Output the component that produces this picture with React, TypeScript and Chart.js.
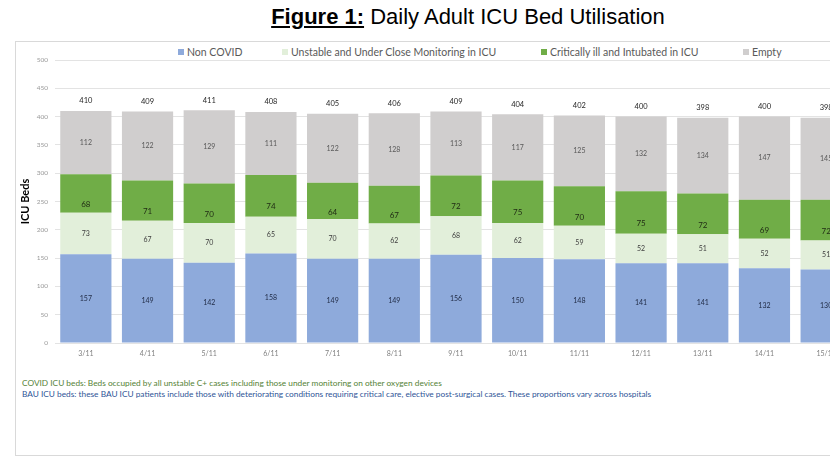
import React, { useEffect, useRef } from "react";
import { Chart, registerables } from "chart.js";

Chart.register(...registerables);

const categories = ["3/11", "4/11", "5/11", "6/11", "7/11", "8/11", "9/11", "10/11", "11/11", "12/11", "13/11", "14/11", "15/11"];
const nonCovid = [157, 149, 142, 158, 149, 149, 156, 150, 148, 141, 141, 132, 130];
const unstable = [73, 67, 70, 65, 70, 62, 68, 62, 59, 52, 51, 52, 51];
const critical = [68, 71, 70, 74, 64, 67, 72, 75, 70, 75, 72, 69, 72];
const empty = [112, 122, 129, 111, 122, 128, 113, 117, 125, 132, 134, 147, 145];
const seriesNames = ["Non COVID", "Unstable and Under Close Monitoring in ICU", "Critically ill and Intubated in ICU", "Empty"];
const seriesColors = ["#8eaadb", "#e2efda", "#70ad47", "#d0cece"];
const labelColors = ["#1f2a44", "#404040", "#1f2a14", "#595959"];
const labelOffsets = [0, 0, 11, 0];
const yTicks = { min: 0, max: 500, step: 50 };

const FONT = "Lato, 'Open Sans', sans-serif";

const labelPlugin = {
  id: "segLabels",
  afterDatasetsDraw(chart: any) {
    const ctx = chart.ctx;
    ctx.save();
    ctx.textAlign = "center";
    ctx.textBaseline = "middle";
    chart.data.datasets.forEach((ds: any, di: number) => {
      const meta = chart.getDatasetMeta(di);
      meta.data.forEach((el: any, i: number) => {
        const { x, y, base } = el.getProps(["x", "y", "base"], true);
        ctx.fillStyle = labelColors[di];
        ctx.font = `${di === 2 ? 8 : 7}px ${FONT}`;
        ctx.fillText(String(ds.data[i]), x, (y + base) / 2 + labelOffsets[di]);
      });
    });
    const last = chart.getDatasetMeta(chart.data.datasets.length - 1);
    last.data.forEach((el: any, i: number) => {
      const total = chart.data.datasets.reduce((s: number, d: any) => s + d.data[i], 0);
      const { x, y } = el.getProps(["x", "y"], true);
      ctx.fillStyle = "#262626";
      ctx.font = `7.5px ${FONT}`;
      ctx.fillText(String(total), x, y - 10);
    });
    ctx.restore();
  },
};

export default function App() {
  const ref = useRef<HTMLCanvasElement>(null);
  useEffect(() => {
    if (!ref.current) return;
    const datasets = [nonCovid, unstable, critical, empty].map((d, i) => ({
      label: seriesNames[i],
      data: d,
      backgroundColor: seriesColors[i],
      borderWidth: 0,
      categoryPercentage: 1,
      barPercentage: 0.83,
    }));
    const chart = new Chart(ref.current, {
      type: "bar",
      data: { labels: categories, datasets },
      options: {
        animation: false,
        responsive: false,
        layout: { padding: { top: 18, right: 59, bottom: 9, left: 0 } },
        plugins: { legend: { display: false }, tooltip: { enabled: false } },
        scales: {
          x: {
            stacked: true,
            grid: { display: false, drawTicks: false },
            border: { display: false },
            ticks: { color: "#7f7f7f", font: { size: 7, family: FONT }, padding: 7, maxRotation: 0 },
            afterFit: (s: any) => { s.height = 20; },
          },
          y: {
            stacked: true,
            min: yTicks.min,
            max: yTicks.max,
            grid: { color: "#e3e3e3", drawTicks: false, lineWidth: 1 },
            border: { display: false },
            ticks: { stepSize: yTicks.step, color: "#999999", font: { size: 6.5, family: FONT }, padding: 7 },
            title: { display: true, text: "ICU Beds", color: "#000", font: { size: 11, weight: "bold", family: FONT }, padding: { top: 3, bottom: 0 } },
            afterFit: (s: any) => { s.width = 39; },
          },
        },
      },
      plugins: [labelPlugin],
    });
    return () => chart.destroy();
  }, []);

  const legendPos = [178, 282, 541, 743];
  return (
    <div style={{ position: "fixed", left: 0, top: 0, width: 830, height: 468, overflow: "hidden", background: "#fff" }}>
      <div style={{ position: "absolute", left: 0, top: 4, width: 936, textAlign: "center", fontFamily: "'Liberation Sans', Arial, sans-serif", fontSize: 22, lineHeight: "26px", color: "#000" }}>
        <span style={{ fontWeight: "bold", textDecoration: "underline" }}>Figure 1:</span> Daily Adult ICU Bed Utilisation
      </div>
      <div style={{ position: "absolute", left: 15, top: 41, width: 1000, height: 413, border: "1px solid #d9d9d9" }} />
      {seriesNames.map((n, i) => (
        <div key={n} style={{ position: "absolute", left: legendPos[i], top: 46, height: 12, display: "flex", alignItems: "center", fontFamily: FONT, fontSize: 10.5, color: "#595959", whiteSpace: "nowrap" }}>
          <span style={{ display: "inline-block", width: 6, height: 6, background: seriesColors[i], marginRight: 3 }} />
          {n}
        </div>
      ))}
      <canvas ref={ref} width={900} height={330} style={{ position: "absolute", left: 16, top: 42, width: 900, height: 330 }} />
      <div style={{ position: "absolute", left: 22, top: 378, fontFamily: FONT, fontSize: 8.3, lineHeight: "11px", whiteSpace: "nowrap" }}>
        <div style={{ color: "#548235" }}>COVID ICU beds: Beds occupied by all unstable C+ cases including those under monitoring on other oxygen devices</div>
        <div style={{ color: "#2f5597" }}>BAU ICU beds: these BAU ICU patients include those with deteriorating conditions requiring critical care, elective post-surgical cases. These proportions vary across hospitals</div>
      </div>
    </div>
  );
}
